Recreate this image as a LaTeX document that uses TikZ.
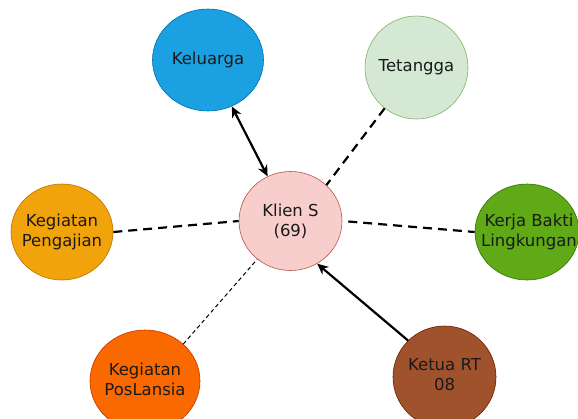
\documentclass[tikz,border=0pt]{standalone}
\usepackage{fontspec}
\setmainfont{DejaVu Sans}
\usetikzlibrary{shapes.geometric,arrows.meta}
\definecolor{kelF}{HTML}{1BA1E2}\definecolor{kelD}{HTML}{006EAF}
\definecolor{tetF}{HTML}{D5E8D4}\definecolor{tetD}{HTML}{82B366}
\definecolor{kliF}{HTML}{F8CECC}\definecolor{kliD}{HTML}{B85450}
\definecolor{kerF}{HTML}{60A917}\definecolor{kerD}{HTML}{2D7600}
\definecolor{penF}{HTML}{F0A30A}\definecolor{penD}{HTML}{BD7000}
\definecolor{posF}{HTML}{FA6800}\definecolor{posD}{HTML}{C73500}
\definecolor{ketF}{HTML}{A0522D}\definecolor{ketD}{HTML}{6D1F00}
\definecolor{txt}{HTML}{1A1A1A}
\tikzset{
  bubble/.style={ellipse, inner sep=0pt, line width=0.6pt},
  bubbletext/.style={align=center, inner sep=0pt, text=txt, font=\fontsize{16.5}{20}\selectfont},
  thickdash/.style={line width=2.2pt, dash pattern=on 9pt off 6pt},
  thindash/.style={line width=1pt, dash pattern=on 4pt off 3pt},
  solidarrow/.style={line width=2.2pt, -{Stealth[length=11pt,width=10pt,inset=3.5pt]}},
  bothArrow/.style={line width=2.2pt, {Stealth[length=11pt,width=10pt,inset=3.5pt]}-{Stealth[length=11pt,width=10pt,inset=3.5pt]}}
}
\begin{document}
\begin{tikzpicture}[x=1pt,y=-1pt]
\useasboundingbox (0,0) rectangle (578,418);
\node[bubble, fill=kelF, draw=kelD, minimum width=111pt, minimum height=102pt,
  label={[bubbletext]center:Keluarga}] (kel) at (208,60) {};
\node[bubble, fill=tetF, draw=tetD, minimum width=103pt, minimum height=103pt,
  label={[bubbletext]center:Tetangga}] (tet) at (416.5,67.5) {};
\node[bubble, fill=kliF, draw=kliD, minimum width=103pt, minimum height=99pt,
  label={[bubbletext]center:Klien S\\(69)}] (kli) at (290.5,221) {};
\node[bubble, fill=kerF, draw=kerD, minimum width=104pt, minimum height=96pt,
  label={[bubbletext, xshift=2pt]center:Kerja Bakti\\Lingkungan}] (ker) at (527,232) {};
\node[bubble, fill=penF, draw=penD, minimum width=102pt, minimum height=96pt,
  label={[bubbletext]center:Kegiatan\\Pengajian}] (pen) at (62,232) {};
\node[bubble, fill=posF, draw=posD, minimum width=110pt, minimum height=102pt,
  label={[bubbletext, yshift=2pt]center:Kegiatan\\PosLansia}] (pos) at (145,381) {};
\node[bubble, fill=ketF, draw=ketD, minimum width=103pt, minimum height=102pt,
  label={[bubbletext, yshift=2pt]center:Ketua RT\\08}] (ket) at (444.5,377) {};

\draw[bothArrow] (kel) -- (kli);
\draw[thickdash] (tet.232) -- (kli.45);
\draw[thickdash] (pen.east) -- (kli.west);
\draw[thickdash, shorten <=6pt] (kli.east) -- (ker.west);
\draw[thindash] (pos.44) -- (kli.229);
\draw[solidarrow] (ket.135) -- (kli.-58);
\end{tikzpicture}
\end{document}
